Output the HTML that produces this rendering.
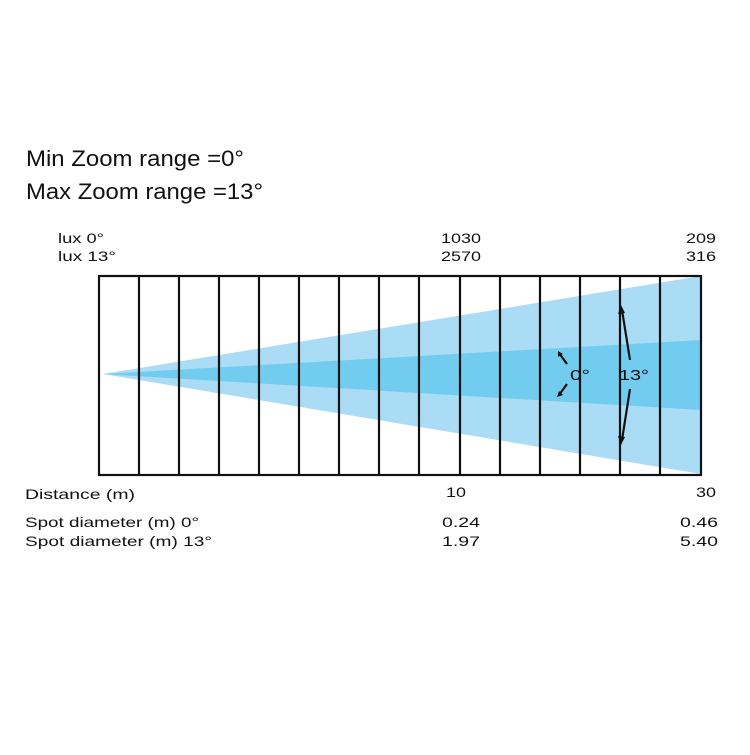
<!DOCTYPE html>
<html><head><style>
html,body{margin:0;padding:0;background:#fff;}
</style></head><body>
<svg width="750" height="750" xmlns="http://www.w3.org/2000/svg" font-family="Liberation Sans, Arial, sans-serif" fill="#111">
<rect width="750" height="750" fill="#fff"/>
<text x="26" y="166" font-size="22" textLength="218" lengthAdjust="spacingAndGlyphs">Min Zoom range =0°</text>
<text x="26" y="199" font-size="22" textLength="237" lengthAdjust="spacingAndGlyphs">Max Zoom range =13°</text>
<g font-size="14" lengthAdjust="spacingAndGlyphs">
<text x="58" y="243" textLength="46" lengthAdjust="spacingAndGlyphs">lux 0°</text>
<text x="58" y="261" textLength="58" lengthAdjust="spacingAndGlyphs">lux 13°</text>
<text x="441" y="243" textLength="40" lengthAdjust="spacingAndGlyphs">1030</text>
<text x="441" y="261" textLength="40" lengthAdjust="spacingAndGlyphs">2570</text>
<text x="686" y="243" textLength="30" lengthAdjust="spacingAndGlyphs">209</text>
<text x="686" y="261" textLength="30" lengthAdjust="spacingAndGlyphs">316</text>
<text x="25" y="499" textLength="110" lengthAdjust="spacingAndGlyphs">Distance (m)</text>
<text x="446" y="497" textLength="20" lengthAdjust="spacingAndGlyphs">10</text>
<text x="696" y="497" textLength="20" lengthAdjust="spacingAndGlyphs">30</text>
<text x="25" y="527" textLength="174" lengthAdjust="spacingAndGlyphs">Spot diameter (m) 0°</text>
<text x="25" y="546" textLength="187" lengthAdjust="spacingAndGlyphs">Spot diameter (m) 13°</text>
<text x="442" y="527" textLength="38" lengthAdjust="spacingAndGlyphs">0.24</text>
<text x="442" y="546" textLength="38" lengthAdjust="spacingAndGlyphs">1.97</text>
<text x="680" y="527" textLength="38" lengthAdjust="spacingAndGlyphs">0.46</text>
<text x="680" y="546" textLength="38" lengthAdjust="spacingAndGlyphs">5.40</text>
</g>
<polygon points="103,374 701,276 701,474" fill="#aadcf5"/>
<polygon points="103,374 701,340 701,410" fill="#72ccef"/>
<g stroke="#111" stroke-width="2.2" fill="none">
<rect x="99" y="276" width="602" height="199"/>
<line x1="139" y1="276" x2="139" y2="475"/>
<line x1="179" y1="276" x2="179" y2="475"/>
<line x1="219" y1="276" x2="219" y2="475"/>
<line x1="259" y1="276" x2="259" y2="475"/>
<line x1="299" y1="276" x2="299" y2="475"/>
<line x1="339" y1="276" x2="339" y2="475"/>
<line x1="379" y1="276" x2="379" y2="475"/>
<line x1="419" y1="276" x2="419" y2="475"/>
<line x1="460" y1="276" x2="460" y2="475"/>
<line x1="500" y1="276" x2="500" y2="475"/>
<line x1="540" y1="276" x2="540" y2="475"/>
<line x1="580" y1="276" x2="580" y2="475"/>
<line x1="620" y1="276" x2="620" y2="475"/>
<line x1="660" y1="276" x2="660" y2="475"/>
<line x1="567" y1="364" x2="559" y2="353"/>
<line x1="567" y1="384" x2="559" y2="395"/>
<line x1="630" y1="360" x2="622" y2="310"/>
<line x1="630" y1="389" x2="622" y2="440"/>
</g>
<g fill="#111">
<polygon points="558,351 563,354 558,357"/>
<polygon points="557,397 563,395 559,391"/>
<polygon points="621,305 618,314 625,313"/>
<polygon points="621,445 618,436 625,437"/>
</g>
<text x="570" y="380" font-size="15" textLength="20" lengthAdjust="spacingAndGlyphs">0°</text>
<text x="619" y="380" font-size="15" textLength="30" lengthAdjust="spacingAndGlyphs">13°</text>
</svg>
</body></html>
